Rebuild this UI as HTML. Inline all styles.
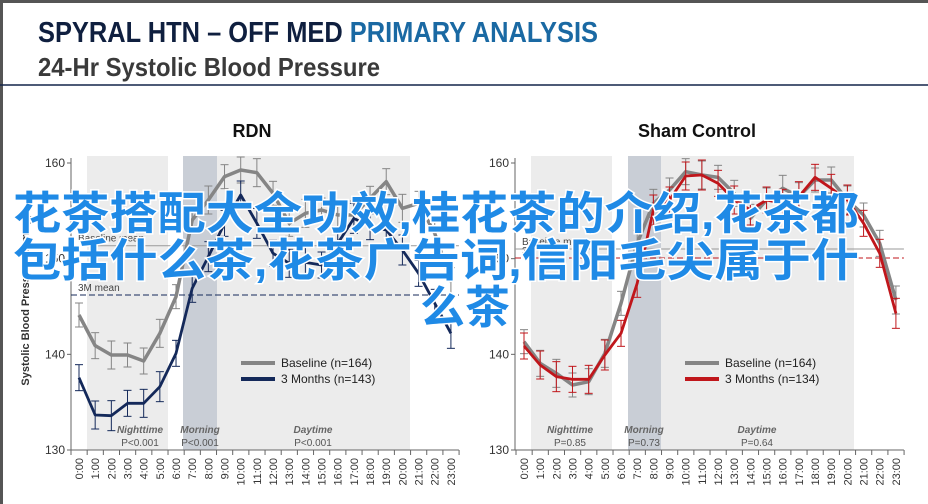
<!DOCTYPE html>
<html><head><meta charset="utf-8"><style>
html,body{margin:0;padding:0;background:#fff;width:928px;height:504px;overflow:hidden}
svg{display:block}
</style></head><body>
<svg id="s" width="928" height="504" xmlns="http://www.w3.org/2000/svg" font-family="Liberation Sans, sans-serif">
<rect x="0" y="0" width="928" height="504" fill="#fff"/>
<rect x="0" y="0" width="3" height="504" fill="#555"/>
<rect x="0" y="0" width="928" height="3" fill="#555"/>
<line x1="0" y1="85" x2="928" y2="85" stroke="#13254a" stroke-width="1.6"/>
<text x="38" y="42" font-size="29" font-weight="bold" fill="#0f1f3f" textLength="560" lengthAdjust="spacingAndGlyphs">SPYRAL HTN – OFF MED <tspan fill="#1a69a3">PRIMARY ANALYSIS</tspan></text>
<text x="38" y="76" font-size="26" font-weight="bold" fill="#3a3a3a" textLength="342" lengthAdjust="spacingAndGlyphs">24-Hr Systolic Blood Pressure</text>
<g id="charts"></g>
<g font-family="Liberation Sans, Noto Sans CJK SC, sans-serif" font-size="45" font-weight="bold" fill="#1f8ae6" stroke="#fff" stroke-width="3" paint-order="stroke" text-anchor="middle">
<text x="436" y="229" textLength="846" lengthAdjust="spacingAndGlyphs">花茶搭配大全功效,桂花茶的介绍,花茶都</text>
<text x="436" y="276" textLength="846" lengthAdjust="spacingAndGlyphs">包括什么茶,花茶广告词,信阳毛尖属于什</text>
<text x="465" y="323">么茶</text>
</g>
</svg>
<script>
const NS="http://www.w3.org/2000/svg";
const g=document.getElementById('charts');
function el(t,a,txt){const e=document.createElementNS(NS,t);for(const k in a)e.setAttribute(k,a[k]);if(txt!==undefined)e.textContent=txt;g.appendChild(e);return e;}
function chart(o){
 const X=h=>o.x0+h*16.17, Y=v=>163+(160-v)*9.567;
 const top=156,bot=450;
 el('text',{x:o.tx,y:137,'font-size':18,'font-weight':'bold','text-anchor':'middle',fill:'#111'},o.title);
 el('rect',{x:o.b[0],y:top,width:o.b[1]-o.b[0],height:bot-top,fill:'#ececec'});
 el('rect',{x:o.b[2],y:top,width:o.b[3]-o.b[2],height:bot-top,fill:'#c9ced6'});
 el('rect',{x:o.b[3],y:top,width:o.b[4]-o.b[3],height:bot-top,fill:'#ececec'});
 el('line',{x1:o.ax,y1:158,x2:o.ax,y2:bot,stroke:'#666'});
 el('line',{x1:o.ax,y1:bot,x2:X(23)+8,y2:bot,stroke:'#666'});
 [160,150,140,130].forEach(v=>{el('line',{x1:o.ax-4,y1:Y(v),x2:o.ax,y2:Y(v),stroke:'#666'});
  el('text',{x:o.ax-6,y:Y(v)+4,'font-size':12,'text-anchor':'end',fill:'#333'},v);});
 for(let h=0;h<=24;h++){const x=o.x0-8+h*16.17;el('line',{x1:x,y1:bot,x2:x,y2:bot+5,stroke:'#666'});}
 for(let h=0;h<24;h++){el('text',{transform:`translate(${X(h)+4},${bot+8}) rotate(-90)`,'font-size':11,'text-anchor':'end',fill:'#333'},h+':00');}
 if(o.ylab) el('text',{transform:`translate(29,300) rotate(-90)`,'font-size':11,'font-weight':'bold','text-anchor':'middle',fill:'#333'},'Systolic Blood Pressure (mmHg)');
 el('line',{x1:o.ax,y1:o.m1,x2:X(23)+8,y2:o.m1,stroke:'#999','stroke-width':1});
 el('line',{x1:o.ax,y1:o.m2,x2:X(23)+8,y2:o.m2,stroke:o.c2,'stroke-width':1,'stroke-dasharray':'6,3'});
 el('text',{x:o.ax+7,y:o.m1-4,'font-size':10,fill:'#444'},'Baseline mean');
 el('text',{x:o.ax+7,y:o.m2-4,'font-size':10,fill:'#444'},'3M mean');
 [[o.p[0],'Nighttime',o.pv[0]],[o.p[1],'Morning',o.pv[1]],[o.p[2],'Daytime',o.pv[2]]].forEach(([x,n,p])=>{
  el('text',{x:x,y:433,'font-size':10,'font-style':'italic','font-weight':'bold','text-anchor':'middle',fill:'#666'},n);
  el('text',{x:x,y:446,'font-size':10,'text-anchor':'middle',fill:'#555'},p);});
 function series(arr,c,w,eb){
  const pts=arr.map((zy,i)=>[X(i),100+zy/3]);
  pts.forEach(([x,y],i)=>{const e=eb+(i%3);el('line',{x1:x,y1:y-e,x2:x,y2:y+e,stroke:c,'stroke-width':1});
   el('line',{x1:x-4,y1:y-e,x2:x+4,y2:y-e,stroke:c});el('line',{x1:x-4,y1:y+e,x2:x+4,y2:y+e,stroke:c});});
  el('polyline',{points:pts.map(p=>p.join(',')).join(' '),fill:'none',stroke:c,'stroke-width':w,'stroke-linejoin':'round'});
 }
 series(o.s1,'#858585',3.5,12);
 series(o.s2,o.c2,2.8,13);
 el('line',{x1:o.lx,y1:363,x2:o.lx+34,y2:363,stroke:'#858585','stroke-width':4});
 el('line',{x1:o.lx,y1:379,x2:o.lx+34,y2:379,stroke:o.c2,'stroke-width':4});
 el('text',{x:o.lx+40,y:367,'font-size':12,fill:'#222'},'Baseline (n=164)');
 el('text',{x:o.lx+40,y:383,'font-size':12,fill:'#222'},o.l2);
}
chart({x0:79,ax:71,tx:252,title:'RDN',b:[87,168,183,217,410],m1:245.7,m2:295,c2:'#14295a',ylab:true,
 p:[140,200,313],pv:['P<0.001','P<0.001','P<0.001'],lx:241,l2:'3 Months (n=143)',
 s1:[645,737,765,765,783,700,590,360,300,230,210,218,280,370,340,330,345,345,295,245,325,310,400,545],
 s2:[833,945,947,910,910,860,760,565,470,370,285,370,460,490,487,495,430,355,380,390,450,520,610,700]});
chart({x0:524,ax:515,tx:697,title:'Sham Control',b:[531,612,628,661,854],m1:249,m2:258,c2:'#c0161b',ylab:false,
 p:[570,644,757],pv:['P=0.85','P=0.73','P=0.64'],lx:685,l2:'3 Months (n=134)',
 s1:[725,790,820,855,845,760,610,430,310,270,215,225,232,280,355,300,265,290,240,240,300,345,430,600],
 s2:[738,795,830,838,838,765,700,550,330,300,228,225,250,300,330,300,310,290,232,265,300,370,460,640]});
const s=document.getElementById('s');const ov=s.querySelector('g[font-size="45"]');s.appendChild(ov);
</script>
</body></html>
